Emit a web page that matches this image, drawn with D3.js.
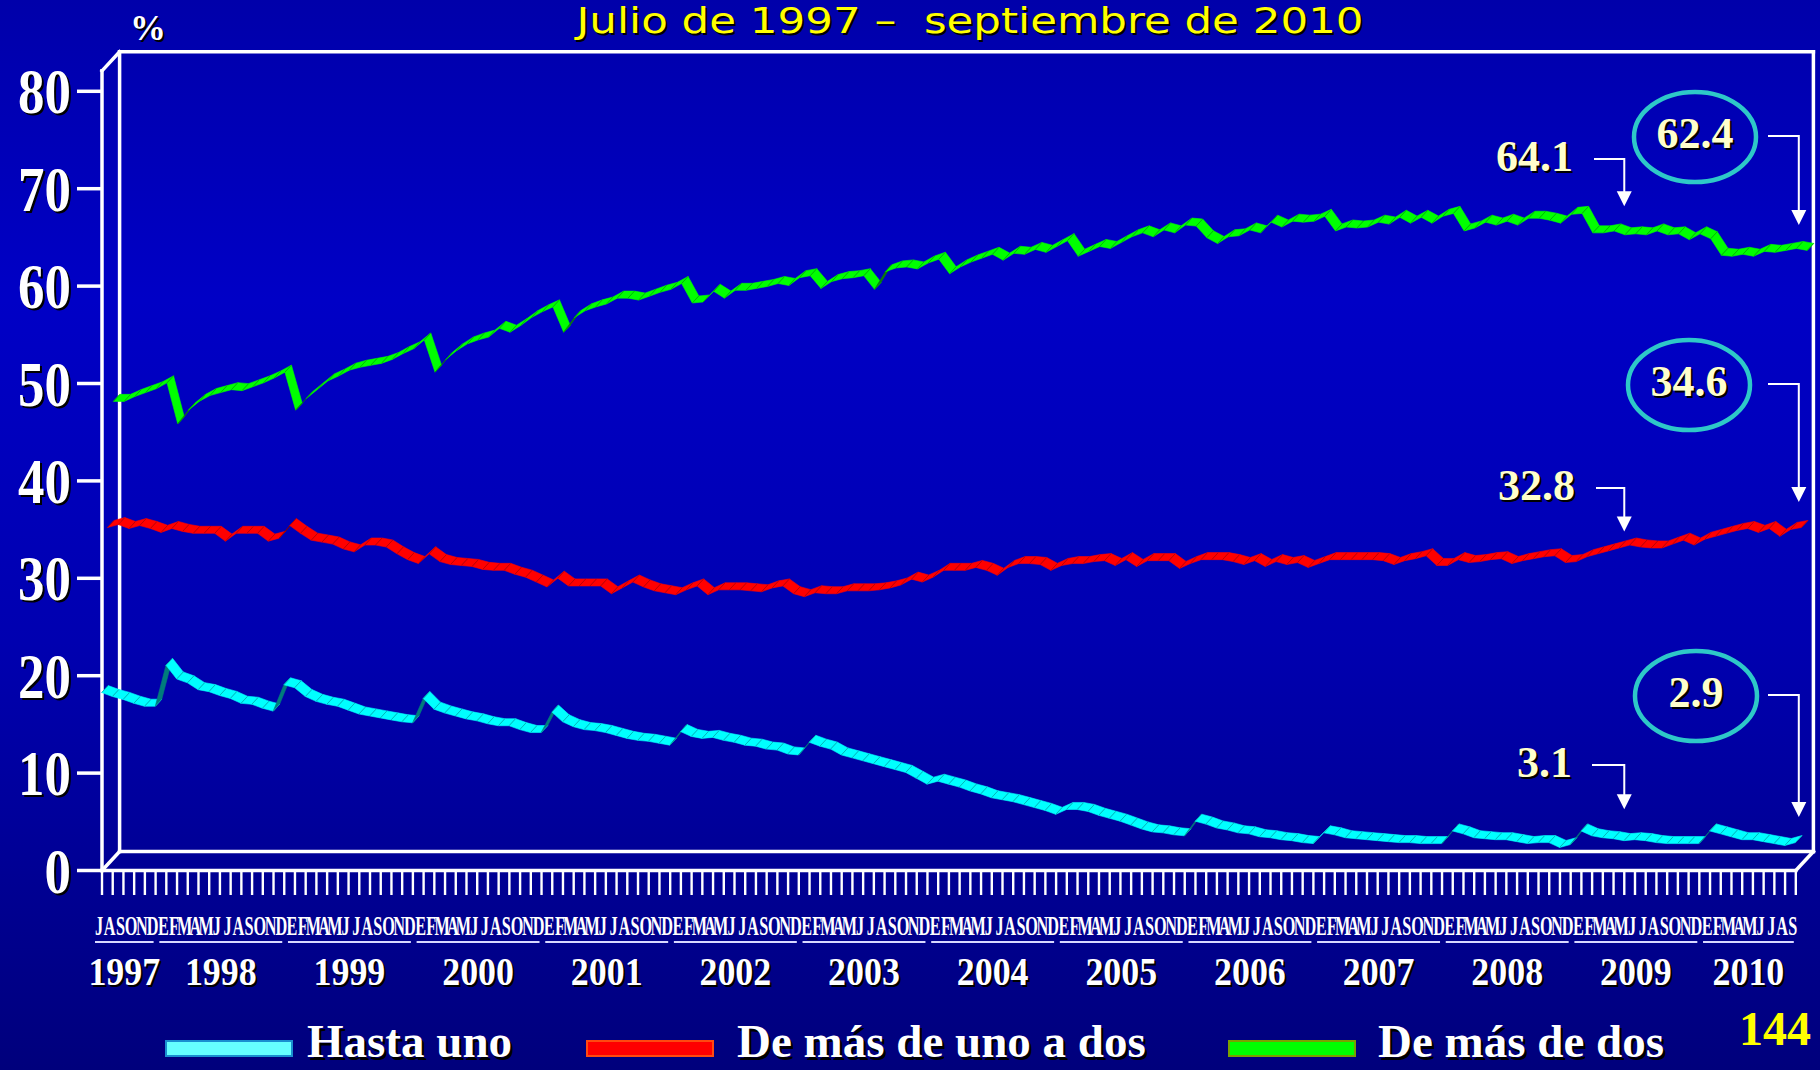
<!DOCTYPE html>
<html>
<head>
<meta charset="utf-8">
<script src="https://cdn.jsdelivr.net/npm/d3@7"></script>
<style>
  html, body { margin: 0; padding: 0; background: #000090; }
  svg { display: block; }
  text { white-space: pre; }
</style>
</head>
<body>
<svg id="chart" width="1820" height="1070"></svg>
<script>
// ---------- data: monthly shares (%), July 1997 - September 2010 ----------
const title = "Julio de 1997 –  septiembre de 2010";
const monthInitials = ["E", "F", "M", "A", "M", "J", "J", "A", "S", "O", "N", "D"];
const years = [1997, 1998, 1999, 2000, 2001, 2002, 2003, 2004, 2005, 2006, 2007, 2008, 2009, 2010];
const firstMonth = 6;              // julio (0 = enero)
const yTicks = [0, 10, 20, 30, 40, 50, 60, 70, 80];
const seriesNames = ["Hasta uno", "De más de uno a dos", "De más de dos"];

const hastaUno = [
  18.3, 17.9, 17.6, 17.2, 16.9, 16.9,
  21.1, 19.7, 19.3, 18.6, 18.4, 18.0, 17.7, 17.2, 17.1, 16.7, 16.4, 19.1,
  18.8, 17.9, 17.4, 17.1, 16.9, 16.5, 16.1, 15.9, 15.7, 15.5, 15.3, 15.2,
  17.7, 16.6, 16.2, 15.9, 15.6, 15.4, 15.1, 14.9, 14.9, 14.5, 14.2, 14.2,
  16.3, 15.3, 14.8, 14.5, 14.4, 14.2, 13.9, 13.6, 13.4, 13.3, 13.1, 12.9,
  14.3, 13.8, 13.6, 13.7, 13.4, 13.2, 12.9, 12.8, 12.5, 12.4, 12.0, 11.9,
  13.2, 12.8, 12.5, 11.9, 11.6, 11.3, 11.0, 10.7, 10.4, 10.1, 9.5, 8.9,
  9.2, 8.9, 8.6, 8.2, 7.9, 7.5, 7.3, 7.1, 6.8, 6.5, 6.2, 5.8,
  6.3, 6.3, 6.1, 5.7, 5.4, 5.1, 4.7, 4.3, 4.0, 3.9, 3.7, 3.6,
  5.1, 4.8, 4.4, 4.2, 3.9, 3.8, 3.5, 3.4, 3.2, 3.1, 2.9, 2.8,
  3.9, 3.7, 3.4, 3.3, 3.2, 3.1, 3.0, 2.9, 2.9, 2.8, 2.8, 2.8,
  4.1, 3.8, 3.4, 3.3, 3.2, 3.2, 3.0, 2.8, 2.9, 2.9, 2.4, 2.7,
  4.1, 3.6, 3.4, 3.3, 3.1, 3.2, 3.1, 2.9, 2.8, 2.8, 2.8, 2.8,
  4.1, 3.8, 3.5, 3.2, 3.2, 3.0, 2.8, 2.6, 2.9
];

const deUnoADos = [
  34.6, 34.9, 34.5, 34.8, 34.5, 34.1,
  34.5, 34.2, 34.0, 34.0, 34.0, 33.2, 34.0, 34.0, 34.0, 33.2, 33.5, 34.8,
  34.0, 33.3, 33.1, 32.9, 32.4, 32.1, 32.8, 32.8, 32.6, 31.9, 31.3, 30.9,
  31.9, 31.1, 30.8, 30.7, 30.6, 30.3, 30.2, 30.2, 29.8, 29.5, 29.0, 28.5,
  29.4, 28.6, 28.6, 28.6, 28.6, 27.8, 28.4, 29.0, 28.5, 28.1, 27.9, 27.7,
  28.2, 28.6, 27.7, 28.2, 28.2, 28.2, 28.1, 28.0, 28.4, 28.6, 27.8, 27.5,
  27.9, 27.8, 27.8, 28.1, 28.1, 28.1, 28.2, 28.4, 28.7, 29.3, 29.0, 29.5,
  30.2, 30.2, 30.2, 30.5, 30.2, 29.7, 30.5, 30.9, 30.9, 30.8, 30.2, 30.7,
  30.9, 30.9, 31.1, 31.2, 30.7, 31.3, 30.6, 31.2, 31.2, 31.2, 30.4, 30.9,
  31.3, 31.3, 31.3, 31.1, 30.8, 31.2, 30.6, 31.1, 30.8, 31.0, 30.5, 30.9,
  31.3, 31.3, 31.3, 31.3, 31.3, 31.2, 30.8, 31.2, 31.4, 31.7, 30.7, 30.7,
  31.3, 31.0, 31.1, 31.3, 31.4, 30.9, 31.2, 31.4, 31.6, 31.7, 31.0, 31.1,
  31.6, 31.9, 32.2, 32.5, 32.8, 32.6, 32.5, 32.5, 32.9, 33.3, 32.8, 33.4,
  33.7, 34.0, 34.3, 34.5, 34.1, 34.5, 33.7, 34.4, 34.6
];

const masDeDos = [
  46.9, 46.9, 47.4, 47.8, 48.2, 48.8,
  44.6, 46.0, 46.9, 47.5, 47.8, 48.1, 48.0, 48.4, 48.8, 49.3, 49.9, 46.0,
  47.2, 48.1, 49.0, 49.5, 50.1, 50.4, 50.6, 50.8, 51.2, 51.8, 52.3, 53.2,
  49.9, 51.2, 52.1, 52.8, 53.2, 53.5, 54.4, 54.0, 54.7, 55.5, 56.1, 56.6,
  54.0, 55.5, 56.2, 56.6, 56.9, 57.5, 57.5, 57.3, 57.7, 58.1, 58.4, 59.0,
  57.0, 57.1, 58.2, 57.5, 58.3, 58.3, 58.5, 58.7, 59.0, 58.8, 59.6, 59.8,
  58.5, 59.2, 59.5, 59.6, 59.8, 58.4, 60.2, 60.6, 60.7, 60.5, 61.1, 61.5,
  60.0, 60.7, 61.2, 61.6, 62.0, 61.4, 62.1, 62.0, 62.5, 62.2, 62.8, 63.4,
  61.8, 62.3, 62.8, 62.6, 63.2, 63.8, 64.2, 63.8, 64.5, 64.2, 65.0, 64.9,
  63.7, 63.1, 63.8, 63.9, 64.5, 64.2, 65.3, 64.8, 65.4, 65.3, 65.4, 65.9,
  64.4, 64.8, 64.7, 64.8, 65.3, 65.1, 65.8, 65.2, 65.8, 65.2, 65.9, 66.2,
  64.4, 64.7, 65.3, 65.0, 65.4, 65.0, 65.7, 65.7, 65.5, 65.2, 66.1, 66.2,
  64.2, 64.2, 64.4, 64.0, 64.1, 64.0, 64.4, 64.0, 64.1, 63.5, 64.1, 63.6,
  61.9, 61.8, 62.0, 61.8, 62.3, 62.2, 62.4, 62.6, 62.4
];

// ---------- layout ----------
const W = 1820, H = 1070;
const N = hastaUno.length;
const serif = "'Liberation Serif', 'Times New Roman', serif";

// month categories derived from the start month
const months = d3.range(N).map(i => {
  const m = (firstMonth + i) % 12;
  const yr = years[0] + Math.floor((firstMonth + i) / 12);
  return { i, m, yr, letter: monthInitials[m] };
});

const x = d3.scalePoint().domain(d3.range(N)).range([102, 1795.8]);
const y = d3.scaleLinear().domain([0, 80]).range([870.5, 91.3]);
const wallTop = 82.1;                    // frame height in value units
const depth = { x: 17.6, y: -19 };      // 3-D depth of the floor/walls
const ribbonHalf = 0.185;               // half ribbon depth (fraction of total depth)

const svg = d3.select("#chart");
const defs = svg.append("defs");

const bg = defs.append("linearGradient").attr("id", "bg")
  .attr("x1", 0).attr("y1", 0).attr("x2", 0).attr("y2", 1);
[[0, "#0000aa"], [0.28, "#0000c6"], [0.6, "#0000b0"], [1, "#00007c"]]
  .forEach(([o, c]) => bg.append("stop").attr("offset", o).attr("stop-color", c));

svg.append("rect").attr("width", W).attr("height", H).attr("fill", "url(#bg)");

// helper: text with a dark drop shadow, optional horizontal squeeze
function label(parent, o) {
  const g = parent.append("g")
    .attr("transform", `translate(${o.x},${o.y}) scale(${o.sx || 1},1)`);
  const apply = t => t.text(o.text)
    .attr("font-family", o.family || serif)
    .attr("font-weight", o.weight || "bold")
    .attr("font-size", o.size)
    .attr("text-anchor", o.anchor || "start");
  if (o.shadow) {
    apply(g.append("text"))
      .attr("x", o.shadow / (o.sx || 1)).attr("y", o.shadow)
      .attr("fill", o.shadowColor || "#000000");
  }
  apply(g.append("text")).attr("fill", o.fill || "#ffffff");
  if (o.textLength) {
    g.selectAll("text").attr("textLength", o.textLength).attr("lengthAdjust", "spacingAndGlyphs");
  }
  return g;
}

// ---------- title ----------
label(svg, { x: 970, y: 33, text: title, size: 36, family: "'DejaVu Sans', Verdana, sans-serif",
  weight: "normal", fill: "#ffff00", anchor: "middle", shadow: 2, textLength: 787 });

// ---------- frame (3-D box) ----------
const x0 = x(0), x1 = x(N - 1);
const yT = y(wallTop), yB = y(0);
const frame = svg.append("g").attr("stroke", "#ffffff").attr("stroke-width", 3.5)
  .attr("fill", "none").attr("stroke-linecap", "square");
const seg = (a, b, c, d) => frame.append("line").attr("x1", a).attr("y1", b).attr("x2", c).attr("y2", d);
seg(x0 + depth.x, yT + depth.y, x1 + depth.x, yT + depth.y);
seg(x1 + depth.x, yT + depth.y, x1 + depth.x, yB + depth.y);
seg(x0 + depth.x, yT + depth.y, x0 + depth.x, yB + depth.y);
seg(x0 + depth.x, yB + depth.y, x1 + depth.x, yB + depth.y);
seg(x0, yT, x0, yB);
seg(x0, yB, x1, yB);
seg(x0, yT, x0 + depth.x, yT + depth.y);
seg(x0, yB, x0 + depth.x, yB + depth.y);
seg(x1, yB, x1 + depth.x, yB + depth.y);

// ---------- value axis ----------
const yAxis = svg.append("g");
yAxis.selectAll("line").data(yTicks).join("line")
  .attr("x1", 77).attr("x2", x0).attr("y1", d => y(d)).attr("y2", d => y(d))
  .attr("stroke", "#ffffff").attr("stroke-width", 3.5);
yTicks.forEach(v => label(yAxis, { x: 71, y: y(v) + 22, text: String(v), size: 63, sx: 0.84,
  anchor: "end", shadow: 2 }));
label(svg, { x: 130, y: 40, text: "%", size: 36, shadow: 2 });

// ---------- category axis ----------
const xAxis = svg.append("g");
xAxis.selectAll("line").data(months).join("line")
  .attr("x1", d => x(d.i)).attr("x2", d => x(d.i))
  .attr("y1", yB).attr("y2", 895)
  .attr("stroke", "#ffffff").attr("stroke-width", 2.4);
// one condensed initial per month
xAxis.selectAll("text.month").data(months).join("text")
  .attr("class", "month")
  .attr("transform", d => `translate(${x(d.i) - 3},935) scale(0.58,1)`)
  .attr("text-anchor", "middle")
  .attr("font-family", serif).attr("font-weight", "bold").attr("font-size", 28)
  .attr("fill", "#ffffff").text(d => d.letter);
years.forEach(yr => {
  const ms = months.filter(d => d.yr === yr);
  const a = x(ms[0].i) - 7, b = x(ms[ms.length - 1].i) - 2;
  xAxis.append("line").attr("x1", a).attr("x2", b).attr("y1", 942).attr("y2", 942)
    .attr("stroke", "#d8d8ff").attr("stroke-width", 2);
  label(xAxis, { x: (a + b) / 2, y: 985, text: String(yr), size: 39, sx: 0.92,
    anchor: "middle", shadow: 2 });
});

// ---------- 3-D ribbons (back row first) ----------
const rows = [
  { data: masDeDos,  fc: 5 / 6, fill: "#00ff00", dark: "#0a7a0a", edge: "#00a800" },
  { data: deUnoADos, fc: 1 / 2, fill: "#ff0000", dark: "#8a0000", edge: "#b00000" },
  { data: hastaUno,  fc: 1 / 6, fill: "#00ffff", dark: "#007c7c", edge: "#00a8a8" }
];
const ribbonY = (r, v) => y(v) + r.fc * depth.y;   // centre line of a ribbon

rows.forEach(r => {
  const f0 = r.fc - ribbonHalf, f1 = r.fc + ribbonHalf;
  const pts = r.data.map((v, i) => ({
    fx: x(i) + f0 * depth.x, fy: y(v) + f0 * depth.y,
    bx: x(i) + f1 * depth.x, by: y(v) + f1 * depth.y
  }));
  const g = svg.append("g");
  const faceColor = ([a, b]) => {
    const vx = b.fx - a.fx, vy = b.fy - a.fy;
    const ox = a.bx - a.fx, oy = a.by - a.fy;
    return (vx * oy - vy * ox) < 0 ? r.fill : r.dark;
  };
  g.selectAll("path").data(d3.pairs(pts)).join("path")
    .attr("d", ([a, b]) => `M${a.fx},${a.fy}L${b.fx},${b.fy}L${b.bx},${b.by}L${a.bx},${a.by}Z`)
    .attr("fill", faceColor).attr("stroke", faceColor).attr("stroke-width", 0.6)
    .attr("stroke-linejoin", "round");
  g.selectAll("line").data(pts).join("line")
    .attr("x1", d => d.fx).attr("y1", d => d.fy).attr("x2", d => d.bx).attr("y2", d => d.by)
    .attr("stroke", r.edge).attr("stroke-width", 0.8);
});

// ---------- value call-outs ----------
const fmt = d3.format(".1f");
const callouts = [
  { row: 0, idx: 142, ring: false, tx: 1573, ty: 171, hx: 1594, hy: 159, gap: 24 },
  { row: 1, idx: 142, ring: false, tx: 1575, ty: 500, hx: 1596, hy: 488, gap: 10 },
  { row: 2, idx: 142, ring: false, tx: 1572, ty: 777, hx: 1592, hy: 765, gap: 28 },
  { row: 0, idx: N - 1, ring: true, cx: 1695, cy: 137, hx: 1768, gap: 22 },
  { row: 1, idx: N - 1, ring: true, cx: 1689, cy: 385, hx: 1768, gap: 22 },
  { row: 2, idx: N - 1, ring: true, cx: 1696, cy: 696, hx: 1768, gap: 22 }
];
const notes = svg.append("g");
callouts.forEach(c => {
  const r = rows[c.row];
  const v = r.data[c.idx];
  const ax = x(c.idx) + (c.ring ? 3 : 0);
  const tipY = ribbonY(r, v) - c.gap;
  const hy = c.ring ? c.cy - 1 : c.hy;
  if (c.ring) {
    notes.append("ellipse").attr("cx", c.cx).attr("cy", c.cy).attr("rx", 61).attr("ry", 45)
      .attr("fill", "none").attr("stroke", "#2ec8c8").attr("stroke-width", 4.5);
    label(notes, { x: c.cx, y: c.cy + 11, text: fmt(v), size: 44, anchor: "middle",
      fill: "#ffffcc", shadow: 2 });
  } else {
    label(notes, { x: c.tx, y: c.ty, text: fmt(v), size: 44, anchor: "end",
      fill: "#ffffcc", shadow: 2 });
  }
  notes.append("path")
    .attr("d", `M${c.hx},${hy}H${ax}V${tipY - 14}`)
    .attr("fill", "none").attr("stroke", "#ffffff").attr("stroke-width", 2);
  notes.append("path")
    .attr("d", `M${ax - 7.5},${tipY - 15}L${ax + 7.5},${tipY - 15}L${ax},${tipY}Z`)
    .attr("fill", "#ffffff");
});

// ---------- legend ----------
const legend = [
  { name: seriesNames[0], fill: "#66ffff", stroke: "#1a8fd0", sx: 166, tx: 307 },
  { name: seriesNames[1], fill: "#ff0000", stroke: "#ff4a10", sx: 587, tx: 737 },
  { name: seriesNames[2], fill: "#00ff00", stroke: "#7aa000", sx: 1229, tx: 1378 }
];
const lg = svg.append("g");
legend.forEach(l => {
  lg.append("rect").attr("x", l.sx).attr("y", 1041).attr("width", 126).attr("height", 15)
    .attr("fill", l.fill).attr("stroke", l.stroke).attr("stroke-width", 2);
  label(lg, { x: l.tx, y: 1057, text: l.name, size: 47, shadow: 2.5 });
});

// ---------- page number ----------
svg.append("text").attr("x", 1811).attr("y", 1045).attr("text-anchor", "end")
  .attr("font-family", serif).attr("font-weight", "bold").attr("font-size", 48)
  .attr("fill", "#ffff00").text("144");
</script>
</body>
</html>
